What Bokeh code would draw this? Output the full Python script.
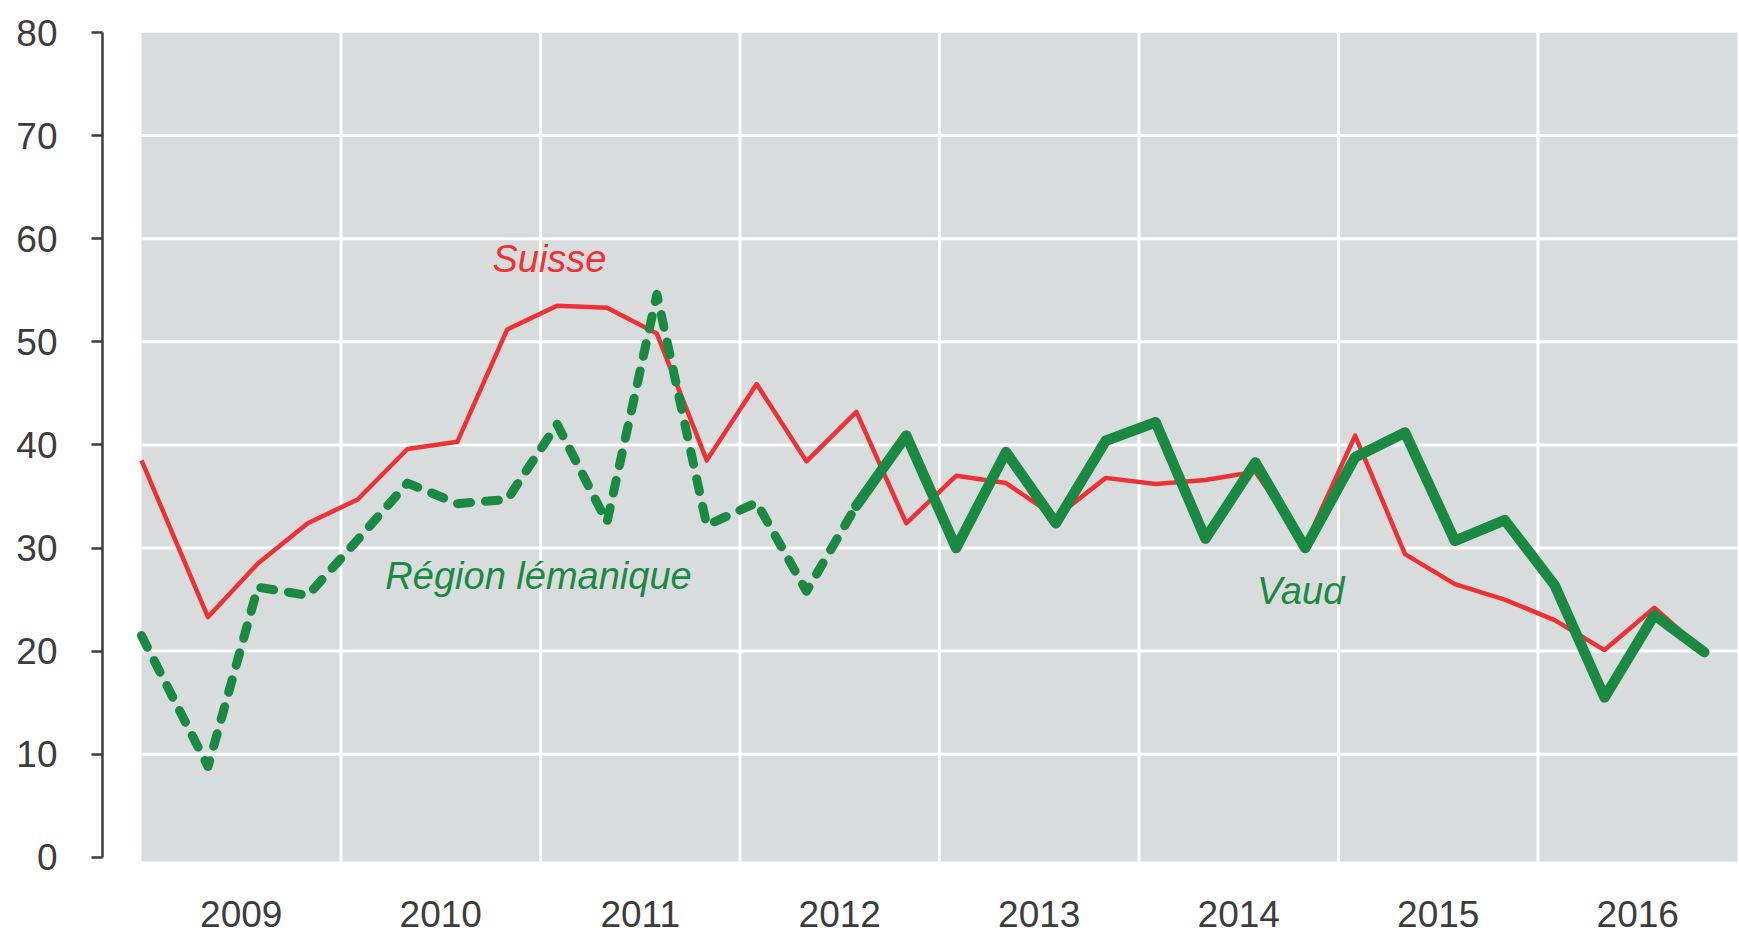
from bokeh.plotting import figure
from bokeh.models import Range1d, FixedTicker
from bokeh.core.properties import value
from bokeh.embed import file_html
from bokeh.resources import INLINE

# ---------------- data ----------------
dates = ["2009-01", "2009-05", "2009-08", "2009-11",
         "2010-02", "2010-05", "2010-08", "2010-11",
         "2011-02", "2011-05", "2011-08", "2011-11",
         "2012-02", "2012-05", "2012-08", "2012-11",
         "2013-02", "2013-05", "2013-08", "2013-11",
         "2014-02", "2014-05", "2014-08", "2014-11",
         "2015-02", "2015-05", "2015-08", "2015-11",
         "2016-02", "2016-05", "2016-08", "2016-11"]

suisse = [38.5, 23.3, 28.5, 32.4, 34.7, 39.6, 40.3, 51.2,
          53.5, 53.3, 50.8, 38.5, 45.9, 38.4, 43.2, 32.4,
          37.0, 36.3, 33.0, 36.8, 36.2, 36.6, 37.4, 30.3,
          40.9, 29.4, 26.5, 25.0, 23.0, 20.1, 24.2, 19.9]

# Région lémanique: 2009-01 .. 2012-08
region = [21.5, 8.8, 26.2, 25.4, 30.8, 36.3, 34.3, 34.7,
          42.0, 32.5, 54.6, 32.2, 34.4, 25.8, 34.1]

# Vaud: 2012-08 .. 2016-11
vaud = [34.1, 40.9, 30.0, 39.3, 32.4, 40.4, 42.2, 30.9, 38.3,
        30.0, 38.8, 41.2, 30.7, 32.7, 26.4, 15.5, 23.5, 19.9]

year_labels = ["2009", "2010", "2011", "2012", "2013", "2014", "2015", "2016"]
y_ticks = [0, 10, 20, 30, 40, 50, 60, 70, 80]


def to_year(d):
    y, m = d.split("-")
    return int(y) + (int(m) - 1) / 12.0


x_all = [to_year(d) for d in dates]
x_region = x_all[:len(region)]
x_vaud = x_all[len(x_all) - len(vaud):]

years = [int(s) for s in year_labels]
first_year, last_year = years[0], years[-1] + 1

# ---------------- layout ----------------
W, H = 1739, 941
LEFT, TOP = 102, 32         # frame offsets inside the figure
PX_YEAR = 199.5             # px per year
PX_UNIT = 10.31             # px per y unit
GAP = 39                    # gap between y axis and grey area
TXT_SHIFT = -14             # baseline correction for text glyphs (px)

frame_w = W - LEFT
frame_h = H - TOP
x0 = first_year - GAP / PX_YEAR
x1 = x0 + frame_w / PX_YEAR
y1 = y_ticks[-1]
y0 = y1 - frame_h / PX_UNIT

GREY = "#d9dcdd"
RED = "#ee3134"
GREEN = "#1a8a42"
TXT = "#3c3c3c"
FONT = "Liberation Sans"

p = figure(width=W, height=H, x_range=Range1d(x0, x1), y_range=Range1d(y0, y1),
           output_backend="svg", toolbar_location=None,
           min_border_left=LEFT, min_border_right=0, min_border_top=TOP,
           min_border_bottom=0, background_fill_color="white",
           border_fill_color="white", outline_line_color=None)

p.xaxis.visible = False
p.grid.visible = False

ax = p.yaxis[0]
ax.ticker = FixedTicker(ticks=y_ticks)
ax.bounds = (y_ticks[0], y_ticks[-1])
ax.axis_line_color = TXT
ax.axis_line_width = 2.5
ax.major_tick_line_color = TXT
ax.major_tick_line_width = 2.5
ax.major_tick_in = 0
ax.major_tick_out = 11
ax.minor_tick_line_color = None
ax.major_label_standoff = 34
ax.major_label_text_font = FONT
ax.major_label_text_font_size = "37px"
ax.major_label_text_color = TXT

# grey plotting area
p.quad(left=first_year, right=last_year, bottom=-0.4, top=y_ticks[-1],
       fill_color=GREY, line_color=None)

# white grid lines
inner_y = y_ticks[1:-1]
p.segment(x0=[first_year] * len(inner_y), x1=[last_year] * len(inner_y),
          y0=inner_y, y1=inner_y, line_color="white", line_width=3)
inner_x = years[1:]
p.segment(x0=inner_x, x1=inner_x, y0=[-0.4] * len(inner_x),
          y1=[y_ticks[-1]] * len(inner_x), line_color="white", line_width=3)

# series
p.line(x_all, suisse, line_color=RED, line_width=4.5, line_join="round")
p.line(x_region, region, line_color=GREEN, line_width=9, line_dash="13 15",
       line_cap="round", line_join="round")
p.line(x_vaud, vaud, line_color=GREEN, line_width=10.5, line_join="round",
       line_cap="round")

# series labels
p.text(x=[2011.045], y=[56.7], text=["Suisse"], text_color=RED,
       text_font=value(FONT), text_font_size="38px", text_font_style="italic",
       text_align="center", text_baseline="alphabetic", y_offset=TXT_SHIFT)
p.text(x=[2010.99], y=[25.9], text=["Région lémanique"], text_color=GREEN,
       text_font=value(FONT), text_font_size="38px", text_font_style="italic",
       text_align="center", text_baseline="alphabetic", y_offset=TXT_SHIFT)
p.text(x=[2014.81], y=[24.5], text=["Vaud"], text_color=GREEN,
       text_font=value(FONT), text_font_size="38px", text_font_style="italic",
       text_align="center", text_baseline="alphabetic", y_offset=TXT_SHIFT)

# year labels (category labels under the grey area)
p.text(x=[y + 0.5 for y in years], y=[-6.9] * len(years), text=year_labels,
       text_color=TXT, text_font=value(FONT), text_font_size="37px",
       text_align="center", text_baseline="alphabetic", y_offset=TXT_SHIFT)

open("out.html", "w").write(file_html(p, INLINE))
